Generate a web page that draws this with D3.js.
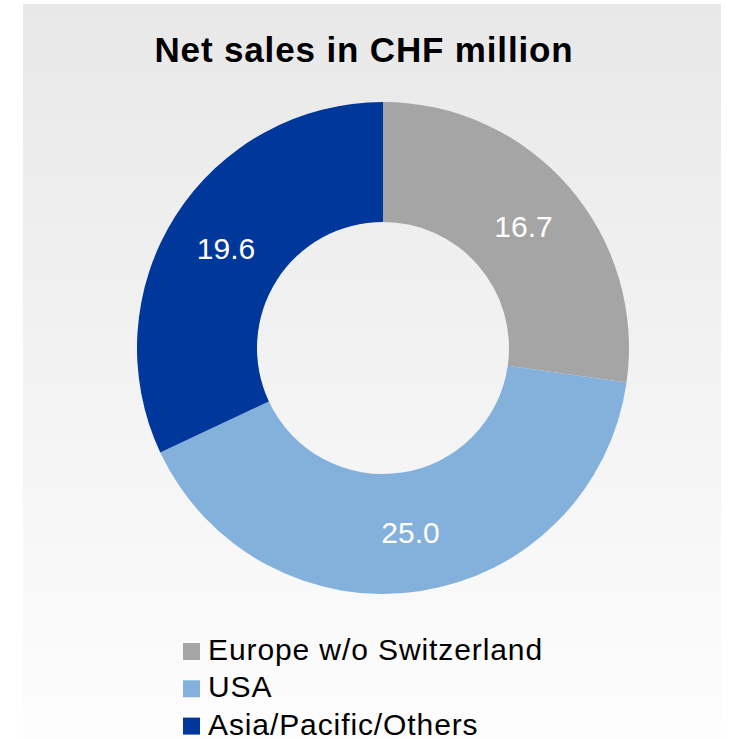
<!DOCTYPE html>
<html>
<head>
<meta charset="utf-8">
<script src="https://cdn.jsdelivr.net/npm/d3@7"></script>
<style>
  html, body { margin: 0; padding: 0; background: #ffffff; }
  svg { display: block; font-family: Arial, "Liberation Sans", sans-serif; }
</style>
</head>
<body>
<svg id="chart" width="730" height="739"></svg>
<script>
// Net sales by region, CHF million
const regions = ["Europe w/o Switzerland", "USA", "Asia/Pacific/Others"];
const sales = [16.7, 25.0, 19.6];
const colors = ["#a5a5a5", "#84b1dc", "#00379a"];
const title = "Net sales in CHF million";

const svg = d3.select("#chart");
const width = 730, height = 739;

// panel background with a soft vertical gradient
const defs = svg.append("defs");
const grad = defs.append("linearGradient")
  .attr("id", "panelGrad").attr("x1", 0).attr("y1", 0).attr("x2", 0).attr("y2", 1);
grad.append("stop").attr("offset", "0%").attr("stop-color", "#e8e8e8");
grad.append("stop").attr("offset", "100%").attr("stop-color", "#fdfdfd");

svg.append("rect")
  .attr("x", 23).attr("y", 4)
  .attr("width", 698).attr("height", height - 4)
  .attr("fill", "url(#panelGrad)");

// title
svg.append("text")
  .attr("x", 364).attr("y", 62)
  .attr("text-anchor", "middle")
  .attr("font-size", 35).attr("font-weight", "bold")
  .attr("letter-spacing", 0.85)
  .attr("fill", "#000")
  .text(title);

// donut
const cx = 383, cy = 348;
const outerR = 246, innerR = 126;
const data = regions.map((r, i) => ({ region: r, value: sales[i], color: colors[i] }));

const pie = d3.pie().value(d => d.value).sort(null);
const arc = d3.arc().innerRadius(innerR).outerRadius(outerR);
const labelArc = d3.arc().innerRadius((innerR + outerR) / 2).outerRadius((innerR + outerR) / 2);

const g = svg.append("g").attr("transform", `translate(${cx},${cy})`);
const arcs = pie(data);

g.selectAll("path.slice")
  .data(arcs)
  .join("path")
  .attr("class", "slice")
  .attr("d", arc)
  .attr("fill", d => d.data.color);

g.selectAll("text.value")
  .data(arcs)
  .join("text")
  .attr("class", "value")
  .attr("transform", d => `translate(${labelArc.centroid(d)})`)
  .attr("text-anchor", "middle")
  .attr("dy", "0.36em")
  .attr("font-size", 30)
  .attr("fill", "#ffffff")
  .text(d => d3.format(".1f")(d.data.value));

// legend
const legend = svg.append("g").attr("transform", "translate(183,660)");
const rowH = 37.3;
const item = legend.selectAll("g.item")
  .data(data)
  .join("g")
  .attr("class", "item")
  .attr("transform", (d, i) => `translate(0,${i * rowH})`);

item.append("rect")
  .attr("x", 0).attr("y", -17)
  .attr("width", 17).attr("height", 17)
  .attr("fill", d => d.color);

item.append("text")
  .attr("x", 25).attr("y", 0)
  .attr("font-size", 30)
  .attr("letter-spacing", 0.9)
  .attr("fill", "#000")
  .text(d => d.region);
</script>
</body>
</html>
